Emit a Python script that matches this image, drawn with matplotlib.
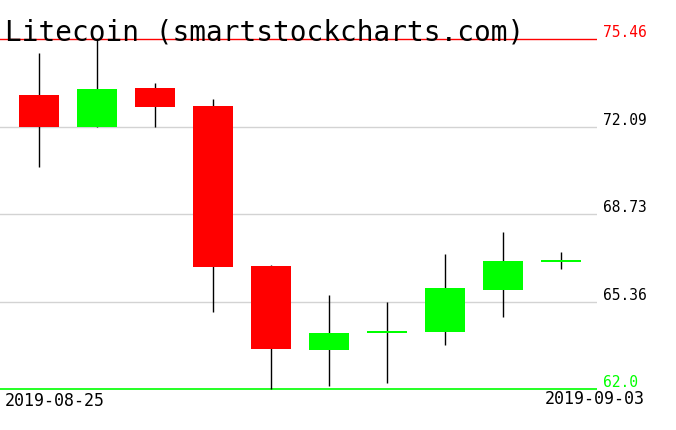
import matplotlib
matplotlib.use("Agg")
import matplotlib.pyplot as plt

title = "Litecoin (smartstockcharts.com)"
dates = ["2019-08-25", "2019-08-26", "2019-08-27", "2019-08-28", "2019-08-29",
         "2019-08-30", "2019-08-31", "2019-09-01", "2019-09-02", "2019-09-03"]
opens  = [73.31, 72.09, 73.58, 72.88, 66.73, 63.51, 64.16, 64.20, 65.82, 66.89]
highs  = [74.92, 75.46, 73.77, 73.15, 66.77, 65.62, 65.35, 67.19, 68.04, 67.27]
lows   = [70.55, 72.09, 72.09, 64.97, 62.00, 62.13, 62.24, 63.70, 64.78, 66.63]
closes = [72.08, 73.54, 72.86, 66.70, 63.54, 64.15, 64.24, 65.88, 66.92, 66.97]
max_price = 75.46
min_price = 62.0
grid_levels = [72.09, 68.73, 65.36]

MONO = "DejaVu Sans Mono"
W, H = 676, 431
fig = plt.figure(figsize=(W / 100, H / 100), dpi=100)
ax = fig.add_axes([0, 0, 597 / W, 1])
ax.set_axis_off()
ax.set_xlim(-0.67, 9.62)
# y pixel = 390 - (v-62)*26
ax.set_ylim(62 - (H - 390) / 26, 62 + 390 / 26)

for g in grid_levels:
    ax.axhline(g, color="#d3d3d3", lw=1, zorder=1)
ax.axhline(max_price, color="#ff0000", lw=1, zorder=1)
ax.axhline(min_price, color="#00ff00", lw=1.2, zorder=1)

xs = list(range(len(dates)))
ax.vlines(xs, lows, highs, color="black", lw=1, zorder=2)
for x, o, c in zip(xs, opens, closes):
    col = "#00ff00" if c >= o else "#ff0000"
    ax.bar(x, abs(c - o), bottom=min(o, c), width=0.69, color=col, zorder=3,
           linewidth=0)

lbl_x = 603 / 597
tr = ax.get_yaxis_transform()
for g in grid_levels:
    ax.text(lbl_x, g, f"{g:.2f}", transform=tr, ha="left", va="bottom",
            fontsize=10.5, family=MONO, color="black", clip_on=False)
ax.text(lbl_x, max_price, f"{max_price:.2f}", transform=tr, ha="left",
        va="bottom", fontsize=10.5, family=MONO, color="#ff0000", clip_on=False)
ax.text(lbl_x, min_price, f"{min_price}", transform=tr, ha="left",
        va="bottom", fontsize=10.5, family=MONO, color="#00ff00", clip_on=False)

fig.text(5 / W, 1 - 40 / H, title, ha="left", va="baseline", fontsize=20,
         family=MONO, color="black")
fig.text(5 / W, 1 - 406 / H, dates[0], ha="left", va="baseline", fontsize=12,
         family=MONO)
fig.text(645 / W, 1 - 404 / H, dates[-1], ha="right", va="baseline",
         fontsize=12, family=MONO)

fig.savefig("out.png", dpi=100)
